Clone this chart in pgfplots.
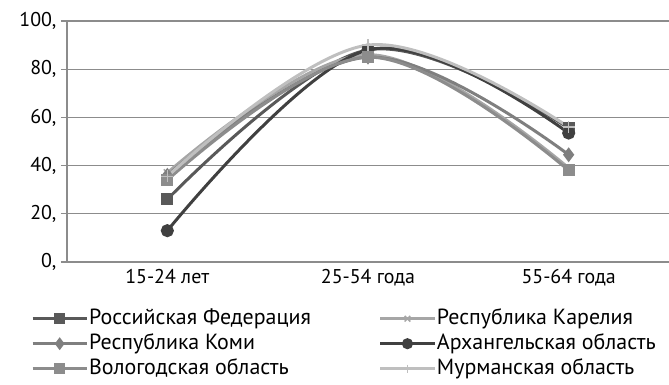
\documentclass[border=0pt]{standalone}
\usepackage{fontspec}
\setmainfont{PT Sans}
\usepackage{pgfplots}
\pgfplotsset{compat=1.18}

\definecolor{cRus}{HTML}{595959}
\definecolor{cKar}{HTML}{A6A6A6}
\definecolor{cKomi}{HTML}{7F7F7F}
\definecolor{cArh}{HTML}{404040}
\definecolor{cVol}{HTML}{8C8C8C}
\definecolor{cMur}{HTML}{BFBFBF}
\definecolor{cGrid}{HTML}{8C8C8C}

\begin{document}
\begin{tikzpicture}[x=1bp,y=1bp]
\begin{axis}[
  name=ax,
  at={(0,0)}, anchor=south west,
  width=602bp, height=241bp,
  scale only axis,
  font=\fontsize{20}{23}\selectfont,
  xmin=-0.5, xmax=2.5,
  ymin=0, ymax=100,
  ytick={0,20,...,100},
  yticklabel={\pgfmathprintnumber{\tick},},
  /pgf/number format/assume math mode=true,
  xtick={0,1,2},
  xticklabels={15-24 лет,25-54 года,55-64 года},
  major x tick style={draw=none},
  extra x ticks={-0.5,0.5,1.5,2.5},
  extra x tick labels={},
  extra x tick style={major tick length=6bp, tick pos=lower, tick align=outside, grid=none, major tick style={draw=cGrid, line width=1.2bp}},
  ymajorgrids,
  grid style={draw=cGrid, line width=1.3bp},
  axis x line*=bottom,
  axis y line*=left,
  axis line style={draw=cGrid, line width=1.3bp, -},
  y tick style={draw=cGrid, line width=1.3bp},
  major tick length=6bp,
  ytick align=outside,
  yticklabel style={xshift=-1bp},
  xticklabel style={yshift=-4bp},
  every axis plot/.append style={line width=3bp, smooth, tension=0.6},
  legend columns=2,
  legend cell align=left,
  legend style={at={(axis description cs:0,0)}, anchor=north west,
    xshift=-36bp, yshift=-44bp, draw=none, fill=none, inner sep=0pt,
    row sep=0bp, font=\fontsize{22}{25}\selectfont,
    nodes={inner sep=1bp, text depth=6bp, text height=17bp},
    /tikz/every even column/.append style={column sep=67bp}},
  legend image code/.code={
    \draw[#1, mark repeat=2, mark phase=2, mark size=4bp] plot coordinates {(0bp,0bp) (27bp,0bp) (54bp,0bp)};
  },
]
\addplot[color=cRus, mark=square*, mark size=4.5bp, mark options={solid}] coordinates {(0,26) (1,88) (2,55.5)};
\addlegendentry{Российская Федерация}
\addplot[color=cKar, mark=x, mark size=5bp, mark options={solid, line width=1.5bp}] coordinates {(0,37) (1,86) (2,39)};
\addlegendentry{Республика Карелия}
\addplot[color=cKomi, mark=diamond*, mark size=5bp, mark options={solid}] coordinates {(0,36) (1,85) (2,44.5)};
\addlegendentry{Республика Коми}
\addplot[color=cArh, mark=*, mark size=5bp, mark options={solid}] coordinates {(0,13) (1,88) (2,53.5)};
\addlegendentry{Архангельская область}
\addplot[color=cVol, mark=square*, mark size=4.5bp, mark options={solid}] coordinates {(0,34) (1,85) (2,38)};
\addlegendentry{Вологодская область}
\addplot[color=cMur, mark=+, mark size=6bp, mark options={solid, line width=1.5bp}] coordinates {(0,35.5) (1,90) (2,56)};
\addlegendentry{Мурманская область}
\end{axis}
\pgfresetboundingbox
\path[use as bounding box] ([xshift=-67bp,yshift=-123bp]ax.south west) rectangle ([yshift=21bp]ax.north east);
\end{tikzpicture}
\end{document}
